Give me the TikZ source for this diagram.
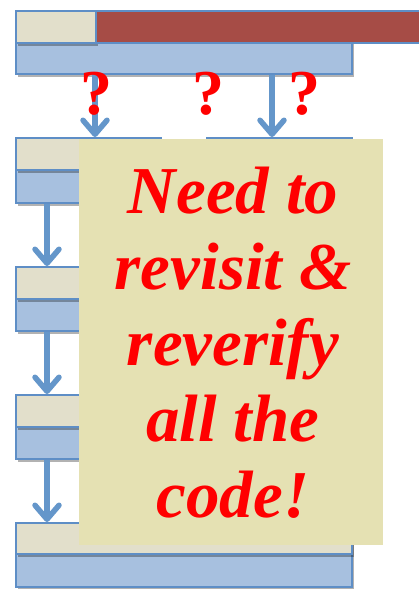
\documentclass[tikz,border=0pt]{standalone}
\usepackage{fontspec}
\setmainfont{Liberation Serif}
\usetikzlibrary{arrows.meta,shadows}
\definecolor{panelblue}{HTML}{A7C0DF}
\definecolor{edgeblue}{HTML}{5E8EC6}
\definecolor{headbeige}{HTML}{E2DFCB}
\definecolor{brickred}{HTML}{A64C46}
\definecolor{notebg}{HTML}{E5E1B3}
\definecolor{arrowblue}{HTML}{6496CA}
\tikzset{
  boxshadow/.style={drop shadow={shadow xshift=2pt,shadow yshift=-3pt,opacity=0.3,fill=black}},
  frame/.style={draw=edgeblue,line width=1.6pt,fill=panelblue,anchor=north west,inner sep=0pt,boxshadow},
  head/.style={draw=edgeblue,line width=1.6pt,fill=headbeige,anchor=north west,inner sep=0pt,boxshadow},
  hot/.style={draw=edgeblue,line width=1.6pt,fill=brickred,anchor=north west,inner sep=0pt},
  flow/.style={draw=arrowblue,line width=5.5pt,-{Straight Barb[length=14pt,width=24pt,line width=5.5pt,round]}},
  query/.style={text=red,inner sep=0pt,font=\fontsize{64}{64}\selectfont\bfseries},
  note/.style={fill=notebg,anchor=north west,inner sep=0pt,minimum width=304pt,minimum height=406pt},
  notetext/.style={text=red,align=center,inner sep=0pt,font=\fontsize{67}{76}\selectfont\bfseries\itshape}
}
\begin{document}
\begin{tikzpicture}[x=1pt,y=-1pt]
\useasboundingbox (0,0) rectangle (419,589);
\begin{scope}
\clip (0,0) rectangle (419,589);
% top module
\node[frame,minimum width=336pt,minimum height=63pt] (top) at (15,10) {};
\node[head,minimum width=80pt,minimum height=32pt] (tophead) at (15,10) {};
\node[hot,minimum width=340pt,minimum height=32pt] (topbar) at (95,10) {};
% second row: two modules
\node[frame,minimum width=145pt,minimum height=65pt] (ml) at (15,137) {};
\node[head,minimum width=145pt,minimum height=32pt] (mlhead) at (15,137) {};
\node[frame,minimum width=145pt,minimum height=65pt] (mr) at (206,137) {};
\node[head,minimum width=145pt,minimum height=32pt] (mrhead) at (206,137) {};
% lower chain
\node[frame,minimum width=336pt,minimum height=64pt] (r3) at (15,266) {};
\node[head,minimum width=336pt,minimum height=32pt] (r3head) at (15,266) {};
\node[frame,minimum width=336pt,minimum height=64pt] (r4) at (15,394) {};
\node[head,minimum width=336pt,minimum height=32pt] (r4head) at (15,394) {};
\node[frame,minimum width=336pt,minimum height=64pt] (r5) at (15,522) {};
\node[head,minimum width=336pt,minimum height=31pt] (r5head) at (15,522) {};
\end{scope}
% connectors
\draw[flow] (top.south west) ++(80,0) coordinate (a1) -- (a1 |- ml.north);
\draw[flow] (top.south west) ++(257,0) coordinate (a2) -- (a2 |- mr.north);
\draw[flow] (ml.south west) ++(32,0) coordinate (b1) -- (b1 |- r3.north);
\draw[flow] (r3.south west) ++(32,0) coordinate (b2) -- (b2 |- r4.north);
\draw[flow] (r4.south west) ++(32,0) coordinate (b3) -- (b3 |- r5.north);
% question marks
\node[query] (q1) at (96,94) {?};
\node[query] (q2) at (208,94) {?};
\node[query] (q3) at (304,94) {?};
% sticky note, sitting just under the second-row top edges
\node[note] (notebox) at (79,139) {};
\node[notetext] (msg) at (233,343) {Need to\\revisit \&\\reverify\\all the\\code!};
\end{tikzpicture}
\end{document}
